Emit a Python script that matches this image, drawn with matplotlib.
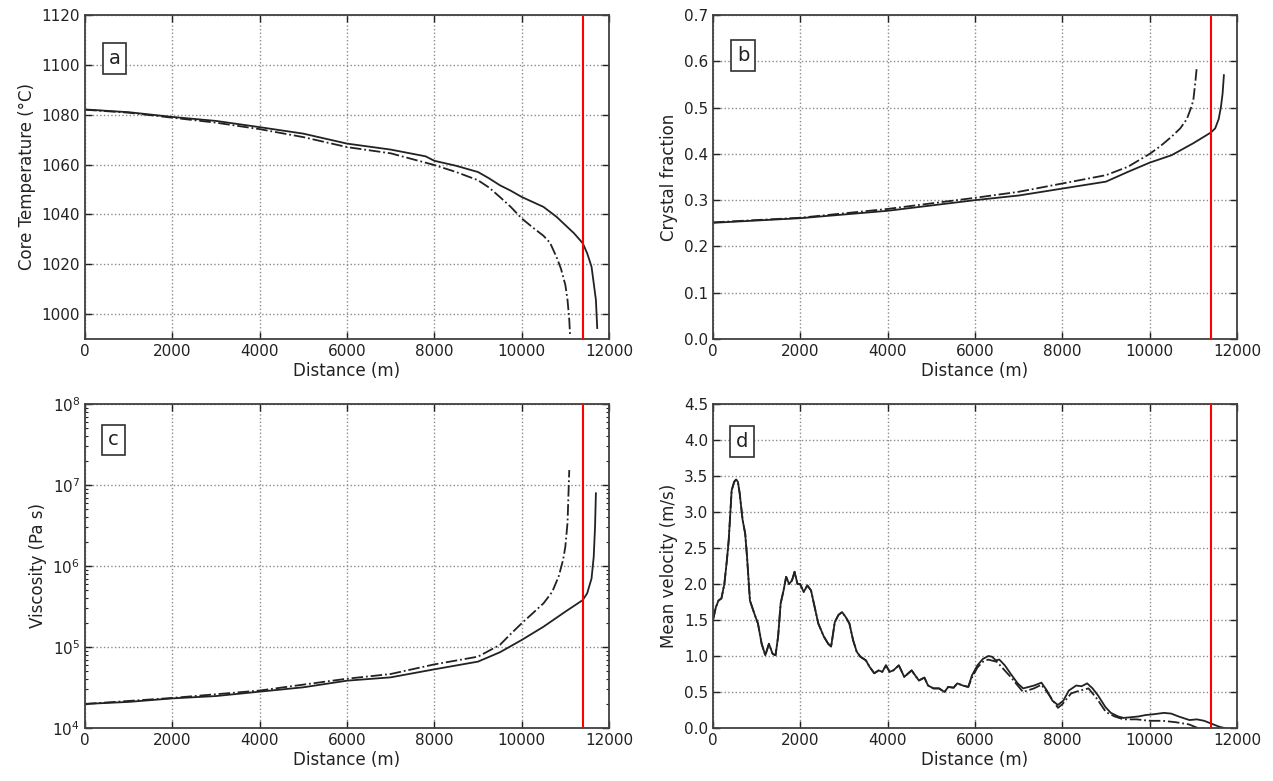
import numpy as np
import matplotlib
matplotlib.use('Agg')
import matplotlib.pyplot as plt


# ---- data ----
vent_dist = 11400   # red vertical line

# (a) core temperature
temp_x_solid = [0, 1000, 2000, 3000, 4000, 5000, 6000, 7000, 7800, 8000, 8500, 9000,
                9250, 9500, 9750, 10000, 10250, 10500, 10800, 11000, 11200, 11400, 11500, 11600,
                11650, 11700, 11730]
temp_solid   = [1082.1, 1081.0, 1079.1, 1077.5, 1075.0, 1072.4, 1068.4, 1066.0, 1063.3, 1061.5, 1059.5, 1057.0,
                1054.5, 1051.7, 1049.5, 1047.0, 1045.0, 1043.0, 1039.0, 1035.7, 1032.4, 1028.4, 1024.4, 1019.0,
                1012.4, 1005.7, 994.4]
temp_x_dash  = [0, 1000, 2000, 3000, 4000, 5000, 6000, 7000, 8000, 8500, 9000, 9250, 9500, 9750, 10000,
                10250, 10500, 10650, 10800, 10900, 11000, 11050, 11090, 11110]
temp_dash    = [1082.0, 1080.8, 1078.8, 1076.8, 1074.2, 1071.0, 1067.0, 1064.5, 1059.8, 1057.0, 1053.7, 1050.8,
                1047.0, 1043.0, 1038.4, 1034.8, 1031.4, 1028.6, 1022.8, 1018.2, 1011.7, 1005.7, 997.7, 991.0]

# (b) crystal fraction
xtal_x_solid = [0, 2000, 4000, 6000, 7000, 8000, 9000, 9500, 10000, 10500, 11000, 11400, 11500, 11580,
                11630, 11670, 11700]
xtal_solid   = [0.251, 0.261, 0.277, 0.300, 0.310, 0.325, 0.340, 0.361, 0.381, 0.397, 0.423, 0.446, 0.455, 0.475,
                0.500, 0.530, 0.570]
xtal_x_dash  = [0, 2000, 4000, 6000, 7000, 8000, 9000, 9500, 10000, 10250, 10500, 10700, 10850, 10950,
                11000, 11050, 11080]
xtal_dash    = [0.252, 0.262, 0.281, 0.305, 0.318, 0.336, 0.354, 0.372, 0.400, 0.417, 0.437, 0.455, 0.475, 0.500,
                0.516, 0.559, 0.588]

# (c) viscosity
visc_x_solid = [0, 1000, 2000, 3000, 4000, 5000, 6000, 7000, 8000, 9000, 9500, 10000,
                10500, 11000, 11400, 11500, 11600, 11650, 11680, 11700]
visc_solid   = [1.98e4, 2.1e4, 2.32e4, 2.48e4, 2.81e4, 3.18e4, 3.84e4, 4.22e4, 5.3e4, 6.6e4, 8.6e4, 1.22e5,
                1.78e5, 2.73e5, 3.8e5, 4.6e5, 7.0e5, 1.3e6, 3.0e6, 7.9e6]
visc_x_dash  = [0, 2000, 4000, 6000, 7000, 8000, 9000, 9500, 9750, 10000, 10250, 10500, 10700, 10850,
                10950, 11000, 11050, 11090]
visc_dash    = [1.98e4, 2.35e4, 2.9e4, 4.06e4, 4.64e4, 6.1e4, 7.6e4, 1.06e5, 1.45e5, 1.96e5, 2.6e5, 3.46e5,
                4.8e5, 7.5e5, 1.2e6, 1.73e6, 3.4e6, 1.53e7]

# (d) mean velocity
vel_x_solid = [0, 67, 126, 193, 260, 318, 360, 427, 486, 528, 570, 611, 678, 737, 779, 846, 946, 1030,
               1114, 1198, 1281, 1365, 1432, 1491, 1549, 1616, 1675, 1742, 1809, 1868, 1935, 1993, 2077,
               2161, 2245, 2328, 2412, 2538, 2638, 2705, 2789, 2873, 2956, 3040, 3124, 3208, 3291, 3375,
               3501, 3585, 3693, 3794, 3878, 3961, 4045, 4129, 4255, 4380, 4548, 4715, 4841, 4925, 5050,
               5176, 5302, 5385, 5511, 5595, 5720, 5846, 5930, 6055, 6181, 6307, 6390, 6474, 6558, 6683,
               6809, 6977, 7102, 7228, 7353, 7521, 7647, 7772, 7898, 8023, 8149, 8317, 8442, 8568, 8693,
               8819, 8987, 9112, 9280, 9405, 9573, 9740, 9908, 10075, 10327, 10494, 10662, 10913, 11080,
               11248, 11415, 11583, 11709]
vel_solid   = [1.50, 1.68, 1.77, 1.80, 2.00, 2.33, 2.61, 3.30, 3.42, 3.45, 3.42, 3.26, 2.89, 2.70, 2.38, 1.77,
               1.59, 1.45, 1.17, 1.01, 1.17, 1.03, 1.01, 1.27, 1.73, 1.91, 2.10, 2.00, 2.05, 2.17, 2.00,
               2.00, 1.89, 1.98, 1.91, 1.68, 1.45, 1.27, 1.17, 1.13, 1.47, 1.57, 1.61, 1.54, 1.45, 1.22,
               1.06, 0.99, 0.94, 0.85, 0.76, 0.80, 0.78, 0.87, 0.78, 0.80, 0.87, 0.71, 0.80, 0.66, 0.70,
               0.59, 0.55, 0.55, 0.50, 0.57, 0.56, 0.62, 0.59, 0.57, 0.73, 0.87, 0.96, 1.00, 0.99, 0.94,
               0.95, 0.87, 0.76, 0.62, 0.55, 0.57, 0.59, 0.63, 0.52, 0.38, 0.32, 0.38, 0.52, 0.59, 0.58,
               0.62, 0.55, 0.45, 0.29, 0.21, 0.16, 0.14, 0.15, 0.16, 0.18, 0.19, 0.21, 0.20, 0.16, 0.11,
               0.12, 0.10, 0.06, 0.02, 0.0]
# dashed run overlaps the solid one up to ~5800 m, then sits a little lower
n_common = 70
vel_x_dash = vel_x_solid[:n_common] + [5930, 6055, 6181, 6300, 6500, 6800, 7100, 7350, 7520, 7650,
                                       7900, 8000, 8200, 8400, 8600, 8800, 9000, 9200, 9400, 9700,
                                       10000, 10300, 10600, 10900, 11100]
vel_dash   = vel_solid[:n_common] + [0.70, 0.84, 0.92, 0.95, 0.92, 0.72, 0.50, 0.55, 0.60, 0.50,
                                     0.28, 0.33, 0.48, 0.52, 0.55, 0.40, 0.22, 0.16, 0.12, 0.12,
                                     0.10, 0.10, 0.08, 0.05, 0.0]


# ---- plotting ----
tick_fs = 11
label_fs = 12
box_fs = 14
line_col = '#222222'
frame_col = '#404040'

fig = plt.figure(figsize=(12.73, 7.81), dpi=100)

W = 524 / 1273
H = 324 / 781
ax_a = fig.add_axes([85 / 1273, 1 - 339 / 781, W, H])
ax_b = fig.add_axes([713 / 1273, 1 - 339 / 781, W, H])
ax_c = fig.add_axes([85 / 1273, 1 - 728 / 781, W, H])
ax_d = fig.add_axes([713 / 1273, 1 - 728 / 781, W, H])


def style_axes(ax, letter, box_xy, ylabel):
    ax.set_xlim(0, 12000)
    ax.set_xticks(np.arange(0, 12001, 2000))
    ax.axvline(vent_dist, color='red', lw=1.5, zorder=3)
    ax.grid(True, linestyle=':', color='#8a8a8a', lw=1.0)
    ax.tick_params(which='both', direction='in', top=True, right=True,
                   labelsize=tick_fs, colors='#222222')
    ax.tick_params(which='major', length=5, width=1)
    ax.tick_params(which='minor', length=2.5, width=0.8)
    for sp in ax.spines.values():
        sp.set_color(frame_col)
        sp.set_linewidth(1.3)
    ax.set_xlabel('Distance (m)', fontsize=label_fs, color='#222222', labelpad=2)
    ax.set_ylabel(ylabel, fontsize=label_fs, color='#222222')
    ax.text(box_xy[0], box_xy[1], letter, transform=ax.transAxes, fontsize=box_fs,
            ha='center', va='center', color='#222222', zorder=5,
            bbox=dict(boxstyle='square,pad=0.3', fc='white', ec='#303030', lw=1.2))


# a
ax_a.plot(temp_x_solid, temp_solid, '-', color=line_col, lw=1.3)
ax_a.plot(temp_x_dash, temp_dash, '-.', color=line_col, lw=1.3)
ax_a.set_ylim(990, 1120)
ax_a.set_yticks(np.arange(1000, 1121, 20))
style_axes(ax_a, 'a', (0.056, 0.865), 'Core Temperature (°C)')

# b
ax_b.plot(xtal_x_solid, xtal_solid, '-', color=line_col, lw=1.3)
ax_b.plot(xtal_x_dash, xtal_dash, '-.', color=line_col, lw=1.3)
ax_b.set_ylim(0, 0.7)
ax_b.set_yticks(np.arange(0, 0.71, 0.1))
ax_b.set_yticklabels([f'{v:.1f}' for v in np.arange(0, 0.71, 0.1)])
style_axes(ax_b, 'b', (0.058, 0.874), 'Crystal fraction')

# c
ax_c.plot(visc_x_solid, visc_solid, '-', color=line_col, lw=1.3)
ax_c.plot(visc_x_dash, visc_dash, '-.', color=line_col, lw=1.3)
ax_c.set_yscale('log')
ax_c.set_ylim(1e4, 1e8)
style_axes(ax_c, 'c', (0.054, 0.889), 'Viscosity (Pa s)')
ax_c.grid(False, which='minor')

# d
ax_d.plot(vel_x_solid, vel_solid, '-', color=line_col, lw=1.3)
ax_d.plot(vel_x_dash, vel_dash, '-.', color=line_col, lw=1.3)
ax_d.set_ylim(0, 4.5)
ax_d.set_yticks(np.arange(0, 4.51, 0.5))
ax_d.set_yticklabels([f'{v:.1f}' for v in np.arange(0, 4.51, 0.5)])
style_axes(ax_d, 'd', (0.056, 0.884), 'Mean velocity (m/s)')

plt.savefig('out.png', dpi=100, facecolor='white')
